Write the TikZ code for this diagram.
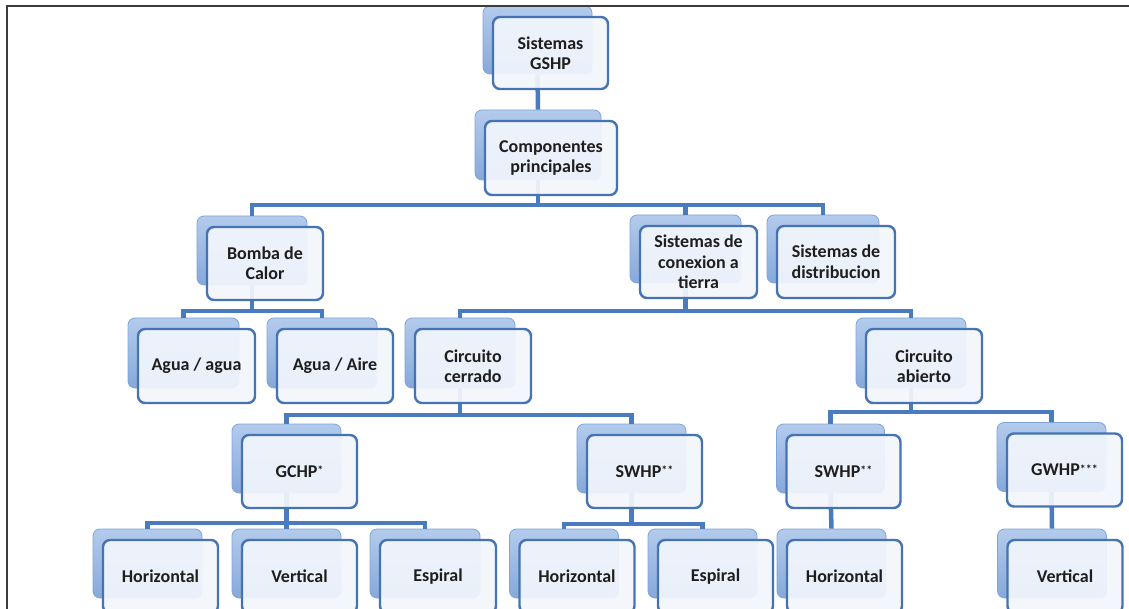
\documentclass[tikz,border=0pt]{standalone}
\usepackage{fontspec}
\setmainfont{Carlito}
\usetikzlibrary{calc}

\definecolor{boxedge}{HTML}{4673B3}
\definecolor{boxfill}{HTML}{F2F6FC}
\definecolor{shtop}{HTML}{B3CBEC}
\definecolor{shbot}{HTML}{86A9DB}
\definecolor{shedge}{HTML}{7FA4D8}
\definecolor{linecol}{HTML}{4A7BBF}
\definecolor{txt}{HTML}{1E1E1E}
\definecolor{framecol}{HTML}{3C3C3C}

\newcommand\lbl{\fontsize{18}{20.5}\selectfont\bfseries}
\newcommand\starmarks[1]{\raisebox{2.5pt}{\fontsize{12}{12}\selectfont #1}}

\pgfdeclarelayer{shadowlayer}
\pgfdeclarelayer{connlayer}
\pgfsetlayers{shadowlayer,connlayer,main}

\tikzset{
  back/.style={rounded corners=7pt, draw=shedge, line width=0.8pt,
    top color=shtop, bottom color=shbot, inner sep=0pt},
  front/.style={rounded corners=7pt, draw=boxedge, line width=2.4pt,
    fill=boxfill, fill opacity=0.93, text opacity=1, text=txt,
    align=center, font=\lbl, inner sep=0pt},
  conn/.style={draw=linecol, line width=4.5pt}
}

% name, centre x, centre y, width, height, label
\newcommand\orgbox[6]{%
  \begin{pgfonlayer}{shadowlayer}
    \node[back, minimum width=#4pt-6pt, minimum height=#5pt-4pt] (#1-s) at (#2-13,#3-13) {};
  \end{pgfonlayer}
  \node[front, minimum width=#4pt, minimum height=#5pt] (#1) at (#2,#3) {#6};
}
% parent, bus coordinate, child
\newcommand\branch[3]{%
  \begin{pgfonlayer}{connlayer}
    \draw[conn] (#1-s.south) -- (#1-s.south |- #2) -| (#3-s.north);
  \end{pgfonlayer}
}
\newcommand\link[2]{%
  \begin{pgfonlayer}{connlayer}
    \draw[conn] (#1-s.south) -- (#2-s.north);
  \end{pgfonlayer}
}

\begin{document}
\begin{tikzpicture}[x=1pt,y=-1pt]
  \useasboundingbox (0,0) rectangle (1129,609);
  \clip (0,0) rectangle (1129,609);
  \draw[framecol, line width=2pt] (1140,6) -- (7,6) -- (7,620);

  \orgbox{gshp}{550.5}{53}{115}{72}{Sistemas\\GSHP}
  \orgbox{comp}{551}{158}{132}{74}{Componentes\\principales}

  \orgbox{bomba}{265}{263.5}{116}{73}{Bomba de\\Calor}
  \orgbox{tierra}{698.5}{262}{117}{72}{Sistemas de\\conexion a\\tierra}
  \orgbox{distrib}{836}{262}{118}{72}{Sistemas de\\distribucion}

  \orgbox{aguaagua}{196.5}{366}{117}{74}{Agua / agua}
  \orgbox{aguaaire}{335}{366}{116}{74}{Agua / Aire}
  \orgbox{cerrado}{473}{366}{116}{74}{Circuito\\cerrado}
  \orgbox{abierto}{924}{366}{116}{74}{Circuito\\abierto}

  \orgbox{gchp}{299.5}{471.5}{115}{73}{GCHP\starmarks{*}}
  \orgbox{swhpa}{644.5}{471.5}{115}{73}{SWHP\starmarks{**}}
  \orgbox{swhpb}{843.5}{471.5}{114}{73}{SWHP\starmarks{**}}
  \orgbox{gwhp}{1064.5}{470}{115}{73}{GWHP\starmarks{***}}

  \orgbox{hora}{160.5}{576.5}{115}{73}{Horizontal}
  \orgbox{vera}{299.5}{576.5}{115}{73}{Vertical}
  \orgbox{espa}{438}{576.5}{116}{73}{Espiral}
  \orgbox{horb}{577}{576.5}{115}{73}{Horizontal}
  \orgbox{espb}{715.5}{576.5}{115}{73}{Espiral}
  \orgbox{horc}{844.5}{576.5}{115}{73}{Horizontal}
  \orgbox{verc}{1065}{576.5}{115}{73}{Vertical}

  % horizontal bus levels
  \coordinate (bus-comp) at (0,205);
  \coordinate (bus-bomba) at (0,311);
  \coordinate (bus-tierra) at (0,311);
  \coordinate (bus-cerrado) at (0,415);
  \coordinate (bus-abierto) at (0,412);
  \coordinate (bus-gchp) at (0,523);
  \coordinate (bus-swhpa) at (0,524);

  \link{gshp}{comp}
  \branch{comp}{bus-comp}{bomba}
  \branch{comp}{bus-comp}{tierra}
  \branch{comp}{bus-comp}{distrib}
  \branch{bomba}{bus-bomba}{aguaagua}
  \branch{bomba}{bus-bomba}{aguaaire}
  \branch{tierra}{bus-tierra}{cerrado}
  \branch{tierra}{bus-tierra}{abierto}
  \branch{cerrado}{bus-cerrado}{gchp}
  \branch{cerrado}{bus-cerrado}{swhpa}
  \branch{abierto}{bus-abierto}{swhpb}
  \branch{abierto}{bus-abierto}{gwhp}
  \branch{gchp}{bus-gchp}{hora}
  \branch{gchp}{bus-gchp}{vera}
  \branch{gchp}{bus-gchp}{espa}
  \branch{swhpa}{bus-swhpa}{horb}
  \branch{swhpa}{bus-swhpa}{espb}
  \link{swhpb}{horc}
  \link{gwhp}{verc}
\end{tikzpicture}
\end{document}
